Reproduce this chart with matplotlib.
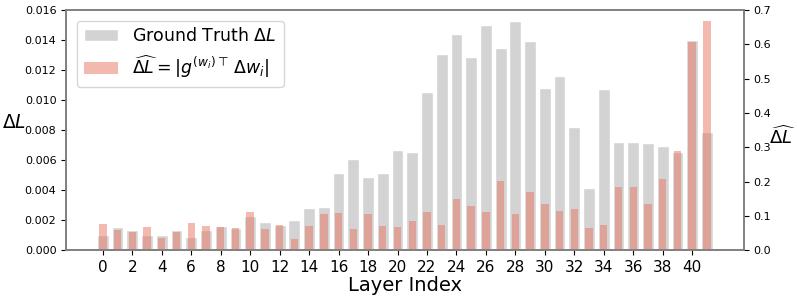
import numpy as np
import matplotlib
matplotlib.use("Agg")
import matplotlib.pyplot as plt

layers = np.arange(42)
gt_delta = [0.0010, 0.00153, 0.00136, 0.0010, 0.0010, 0.00133, 0.00087, 0.00136, 0.0016, 0.00147,
            0.00229, 0.00184, 0.00167, 0.0020, 0.00282, 0.00289, 0.00511, 0.00604, 0.00487, 0.00513,
            0.00667, 0.00656, 0.01056, 0.01304, 0.01442, 0.01289, 0.01498, 0.01344, 0.01524, 0.01396,
            0.01082, 0.0116, 0.00822, 0.00416, 0.01071, 0.0072, 0.0072, 0.00711, 0.00696, 0.00656,
            0.0140, 0.00789]
est_delta = [0.077, 0.059, 0.054, 0.066, 0.036, 0.054, 0.079, 0.069, 0.068, 0.064,
             0.111, 0.062, 0.073, 0.031, 0.069, 0.106, 0.109, 0.062, 0.105, 0.070,
             0.066, 0.086, 0.111, 0.074, 0.148, 0.128, 0.111, 0.202, 0.106, 0.169,
             0.135, 0.113, 0.121, 0.064, 0.072, 0.184, 0.184, 0.135, 0.206, 0.289,
             0.608, 0.668]

fig = plt.figure(figsize=(7.97, 2.97), dpi=100)
ax = fig.add_axes([0.083, 0.158, 0.850, 0.808])
ax2 = ax.twinx()

b1 = ax.bar(layers, gt_delta, width=0.8, color="lightgray", edgecolor="white",
            linewidth=1.0, label=r"Ground Truth $\Delta L$")
b2 = ax2.bar(layers, est_delta, width=0.5, color="#e8735f", alpha=0.5,
             label=r"$\widehat{\Delta L} = |g^{(w_i)\top}\, \Delta w_i|$")

ax.set_ylim(0, 0.016)
ax2.set_ylim(0, 0.7)
ax.set_yticks(np.arange(0, 0.0161, 0.002))
ax.set_yticklabels([f"{v:.3f}" for v in np.arange(0, 0.0161, 0.002)])
ax2.set_yticks(np.arange(0, 0.71, 0.1))
ax2.set_yticklabels([f"{v:.1f}" for v in np.arange(0, 0.71, 0.1)])
ax.set_xticks(np.arange(0, 41, 2))
ax.tick_params(axis="x", labelsize=11)
ax.tick_params(axis="y", labelsize=8)
ax2.tick_params(axis="y", labelsize=8)

ax.set_xlabel("Layer Index", fontsize=14, labelpad=1)
ax.set_ylabel(r"$\Delta L$", fontsize=13.5, rotation=0, ha="center", va="center")
ax.yaxis.set_label_coords(-0.077, 0.53)
ax2.set_ylabel(r"$\widehat{\Delta L}$", fontsize=13, rotation=0, ha="center", va="center")
ax2.yaxis.set_label_coords(1.057, 0.47)

for a in (ax, ax2):
    for s in a.spines.values():
        s.set_color("gray")
        s.set_linewidth(1.2)

ax.legend([b1, b2], [b1.get_label(), b2.get_label()], loc="upper left",
          fontsize=12.5, framealpha=0.8, borderaxespad=0.6)

fig.savefig("out.png", dpi=100)
